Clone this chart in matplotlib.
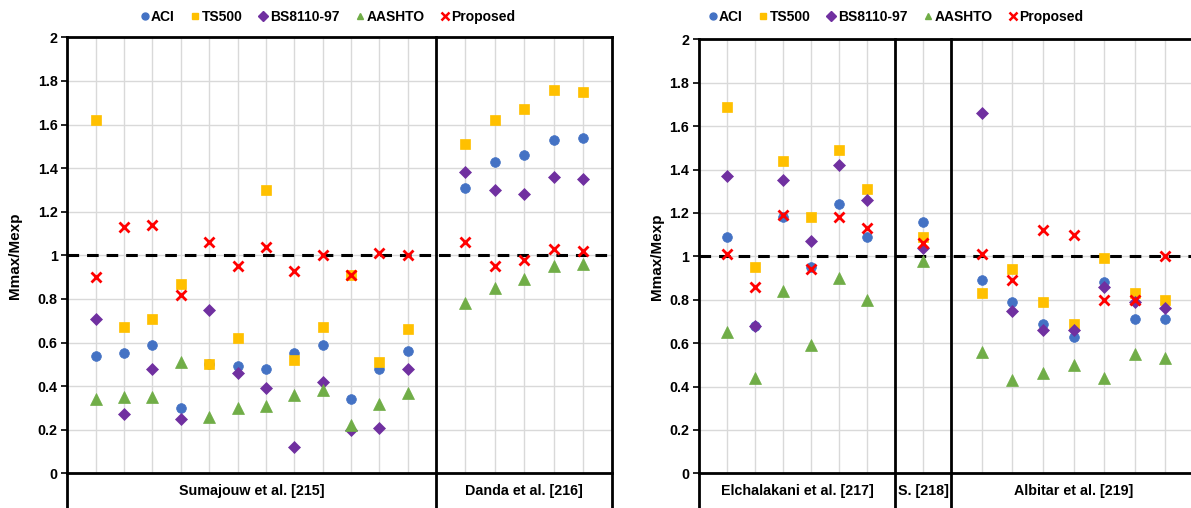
import numpy as np
import matplotlib
matplotlib.use('Agg')
import matplotlib.pyplot as plt
from matplotlib.lines import Line2D
from matplotlib.ticker import FuncFormatter

plt.rcParams['font.family'] = ['Liberation Sans', 'DejaVu Sans']
plt.rcParams['font.weight'] = 'bold'

series = ['ACI', 'TS500', 'BS8110-97', 'AASHTO', 'Proposed']

# left chart
left_groups = ['Sumajouw et al. [215]', 'Danda et al. [216]']
left_counts = [12, 5]
aci_l = [0.54, 0.55, 0.59, 0.30, 0.50, 0.49, 0.48, 0.55, 0.59, 0.34, 0.48, 0.56, 1.31, 1.43, 1.46, 1.53, 1.54]
ts500_l = [1.62, 0.67, 0.71, 0.87, 0.50, 0.62, 1.30, 0.52, 0.67, 0.91, 0.51, 0.66, 1.51, 1.62, 1.67, 1.76, 1.75]
bs_l = [0.71, 0.27, 0.48, 0.25, 0.75, 0.46, 0.39, 0.12, 0.42, 0.20, 0.21, 0.48, 1.38, 1.30, 1.28, 1.36, 1.35]
aashto_l = [0.34, 0.35, 0.35, 0.51, 0.26, 0.30, 0.31, 0.36, 0.38, 0.22, 0.32, 0.37, 0.78, 0.85, 0.89, 0.95, 0.96]
prop_l = [0.90, 1.13, 1.14, 0.82, 1.06, 0.95, 1.04, 0.93, 1.00, 0.91, 1.01, 1.00, 1.06, 0.95, 0.98, 1.03, 1.02]

# right chart
right_groups = ['Elchalakani et al. [217]', 'S. [218]', 'Albitar et al. [219]']
right_counts = [6, 1, 7]
aci_r = [1.09, 0.68, 1.18, 0.95, 1.24, 1.09, 1.16, 0.89, 0.79, 0.69, 0.63, 0.88, 0.71, 0.71]
ts500_r = [1.69, 0.95, 1.44, 1.18, 1.49, 1.31, 1.09, 0.83, 0.94, 0.79, 0.69, 0.99, 0.83, 0.80]
bs_r = [1.37, 0.68, 1.35, 1.07, 1.42, 1.26, 1.04, 1.66, 0.75, 0.66, 0.66, 0.86, 0.79, 0.76]
aashto_r = [0.65, 0.44, 0.84, 0.59, 0.90, 0.80, 0.98, 0.56, 0.43, 0.46, 0.50, 0.44, 0.55, 0.53]
prop_r = [1.01, 0.86, 1.19, 0.94, 1.18, 1.13, 1.06, 1.01, 0.89, 1.12, 1.10, 0.80, 0.80, 1.00]

colors = ['#4472C4', '#FFC000', '#7030A0', '#70AD47', '#FF0000']
markers = ['o', 's', 'D', '^', 'x']
msizes = [7, 6.5, 6.3, 8.3, 7]

W, H = 1191, 508


def positions(counts, steps):
    xs, edges = [], [0]
    start = 0
    for n, s in zip(counts, steps):
        xs += [start + s * (i + 1) for i in range(n)]
        start += s * (n + 1)
        edges.append(start)
    return xs, edges


def panel(fig, rect, groups, counts, steps, data, legend_x, ypad):
    ax = fig.add_axes(rect)
    xs, edges = positions(counts, steps)
    ax.set_xlim(edges[0], edges[-1])
    ax.set_ylim(0, 2)

    ax.set_yticks(np.arange(0, 2.01, 0.2))
    ax.yaxis.set_major_formatter(FuncFormatter(lambda v, p: f'{v:g}'))
    ax.yaxis.grid(True, color='#d9d9d9', lw=1, zorder=0)
    ax.vlines(xs, 0, 2, color='#d9d9d9', lw=1, zorder=0)
    ax.set_axisbelow(True)
    ax.set_xticks([])
    ax.tick_params(axis='y', length=4, width=1.2, labelsize=10.3, pad=3)
    for lab in ax.get_yticklabels():
        lab.set_fontweight('bold')

    for sp in ['left', 'right', 'bottom']:
        ax.spines[sp].set_visible(sp == 'bottom')
    ax.spines['top'].set_linewidth(2)
    ax.spines['bottom'].set_linewidth(2)

    # group dividers run down into the label strip
    for e in edges:
        ax.axvline(e, ymin=-0.2, ymax=1, color='k', lw=2, clip_on=False, zorder=5)

    ax.axhline(1, color='k', lw=2.2, ls=(0, (3.8, 2.6)), zorder=3)

    for vals, c, m, ms in zip(data, colors, markers, msizes):
        if m == 'x':
            ax.plot(xs, vals, ls='none', marker=m, color=c, ms=ms, mew=2, zorder=4)
        else:
            ax.plot(xs, vals, ls='none', marker=m, color=c, mec=c, mew=0.5, ms=ms, zorder=4)

    for g, a, b in zip(groups, edges[:-1], edges[1:]):
        ax.text((a + b) / 2, -0.04, g, transform=ax.get_xaxis_transform(),
                ha='center', va='center', fontsize=10.3, fontweight='bold')

    ax.set_ylabel('Mmax/Mexp', fontsize=11, fontweight='bold', labelpad=ypad)

    handles = []
    for s, c, m in zip(series, colors, markers):
        if m == 'x':
            handles.append(Line2D([], [], ls='none', marker=m, color=c, ms=6, mew=1.8, label=s))
        else:
            handles.append(Line2D([], [], ls='none', marker=m, color=c, ms=5, label=s))
    fig.legend(handles=handles, loc='center', ncol=5, frameon=False,
               bbox_to_anchor=(legend_x / W, 1 - 17 / H),
               handlelength=0.6, handletextpad=0.15, columnspacing=1.2,
               prop={'weight': 'bold', 'size': 10})
    return ax


fig = plt.figure(figsize=(W / 100, H / 100), dpi=100)

l_steps = [1, 1.035]
panel(fig, [67.3 / W, (H - 473.3) / H, 545 / W, 436 / H],
      left_groups, left_counts, l_steps,
      [aci_l, ts500_l, bs_l, aashto_l, prop_l], 328, 11)

r_steps = [1, 1, 1.094]
_, re = positions(right_counts, r_steps)
panel(fig, [699 / W, (H - 473.3) / H, re[-1] * 28 / W, 434 / H],
      right_groups, right_counts, r_steps,
      [aci_r, ts500_r, bs_r, aashto_r, prop_r], 896, 4)

fig.savefig('out.png', dpi=100)
